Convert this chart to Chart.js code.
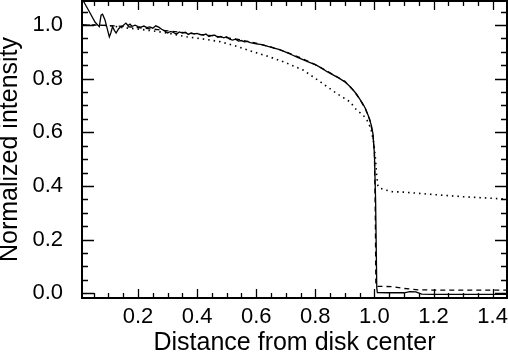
<!DOCTYPE html>
<html>
<head>
<meta charset="utf-8">
<script src="https://cdn.jsdelivr.net/npm/chart.js@4"></script>
<style>
  html, body { margin: 0; padding: 0; background: #fff; }
  canvas { display: block; }
</style>
</head>
<body>
<canvas id="myChart" width="508" height="353" style="width:508px;height:353px"></canvas>
<script>
// solid profile (noisy observation)
const solidX = [0.013, 0.025, 0.04, 0.055, 0.069, 0.075, 0.08, 0.088, 0.095, 0.103,
	0.108, 0.114, 0.12, 0.126, 0.134, 0.142, 0.15, 0.159, 0.166, 0.173,
	0.18, 0.19, 0.2, 0.21, 0.22, 0.23, 0.24, 0.25, 0.26, 0.27,
	0.28, 0.29, 0.3, 0.31, 0.32, 0.33, 0.34, 0.35, 0.36, 0.37,
	0.38, 0.39, 0.4, 0.41, 0.42, 0.43, 0.44, 0.45, 0.46, 0.47,
	0.48, 0.49, 0.5, 0.51, 0.52, 0.53, 0.54, 0.55, 0.56, 0.57,
	0.58, 0.6, 0.62, 0.64, 0.66, 0.68, 0.7, 0.72, 0.74, 0.76,
	0.78, 0.8, 0.82, 0.84, 0.86, 0.88, 0.9, 0.92, 0.94, 0.95,
	0.96, 0.97, 0.98, 0.99, 0.995, 1.0, 1.004, 1.008, 1.01, 1.05,
	1.1, 1.12, 1.14, 1.16, 1.2, 1.3, 1.449];
const solidY = [1.093, 1.07, 1.04, 1.01, 0.994, 1.037, 1.04, 1.02, 0.99, 0.956,
	0.97, 0.994, 0.98, 0.97, 0.985, 0.994, 0.998, 1.007, 0.998, 1.003,
	0.995, 0.999, 0.994, 0.992, 0.996, 0.99, 0.993, 0.988, 0.997, 0.992,
	0.984, 0.978, 0.97, 0.976, 0.972, 0.966, 0.974, 0.97, 0.973, 0.965,
	0.97, 0.967, 0.969, 0.964, 0.962, 0.966, 0.957, 0.961, 0.962, 0.954,
	0.957, 0.952, 0.956, 0.947, 0.944, 0.947, 0.94, 0.942, 0.937, 0.939,
	0.934, 0.93, 0.927, 0.92, 0.914, 0.908, 0.899, 0.889, 0.879, 0.87,
	0.861, 0.852, 0.84, 0.826, 0.814, 0.802, 0.788, 0.768, 0.742, 0.725,
	0.708, 0.688, 0.66, 0.625, 0.595, 0.52, 0.35, 0.02, 0.003, 0.002,
	0.002, 0.006, 0.005, -0.003, -0.004, -0.004, -0.004];

// dashed profile
const dashedX = [0.013, 0.05, 0.1, 0.15, 0.2, 0.25, 0.3, 0.35, 0.4, 0.45,
	0.5, 0.55, 0.6, 0.65, 0.7, 0.75, 0.8, 0.85, 0.9, 0.93,
	0.95, 0.97, 0.985, 0.995, 1.0, 1.003, 1.005, 1.01, 1.06, 1.1,
	1.15, 1.2, 1.449];
const dashedY = [1.0, 1.0, 0.998, 0.995, 0.99, 0.985, 0.978, 0.972, 0.966, 0.96,
	0.953, 0.944, 0.932, 0.918, 0.9, 0.878, 0.852, 0.822, 0.79, 0.755,
	0.724, 0.686, 0.645, 0.59, 0.52, 0.3, 0.028, 0.026, 0.025, 0.018,
	0.013, 0.012, 0.012];

// dotted profile
const dottedX = [0.013, 0.05, 0.1, 0.15, 0.2, 0.25, 0.3, 0.365, 0.42, 0.477,
	0.53, 0.59, 0.64, 0.692, 0.759, 0.816, 0.872, 0.917, 0.94, 0.962,
	0.975, 0.988, 0.998, 1.004, 1.008, 1.012, 1.02, 1.057, 1.1, 1.2,
	1.3, 1.449];
const dottedY = [1.0, 1.0, 0.998, 0.99, 0.985, 0.978, 0.97, 0.956, 0.948, 0.938,
	0.922, 0.9, 0.883, 0.863, 0.832, 0.789, 0.745, 0.714, 0.683, 0.664,
	0.645, 0.615, 0.56, 0.497, 0.435, 0.4, 0.391, 0.379, 0.377, 0.368,
	0.36, 0.351];

const xLabels = [0.2, 0.4, 0.6, 0.8, 1.0, 1.2, 1.4];
const yLabels = [0.0, 0.2, 0.4, 0.6, 0.8, 1.0];

const FONT = "'Liberation Sans', Helvetica, Arial, sans-serif";

function toPoints(xs, ys) {
	return xs.map((x, i) => ({ x: x, y: ys[i] }));
}

function minorTicks(from, to) {
	const out = [];
	for (let i = Math.round(from * 20); i <= Math.round(to * 20); i++) {
		out.push({ value: i / 20 });
	}
	return out;
}

function isLabel(list, v) {
	return list.some((l) => Math.abs(l - v) < 1e-6);
}

// inward ticks on all four sides plus the box
const frameTicks = {
	id: "frameTicks",
	afterDraw(chart) {
		const ctx = chart.ctx;
		const a = chart.chartArea;
		const xs = chart.scales.x;
		const ys = chart.scales.y;
		ctx.save();
		ctx.strokeStyle = "#000";
		ctx.lineWidth = 1.3;
		ctx.beginPath();
		xs.ticks.forEach((t) => {
			const px = Math.round(xs.getPixelForValue(t.value)) + 0.5;
			if (px <= a.left + 1 || px >= a.right - 1) return;
			const len = isLabel(xLabels, t.value) ? 9 : 5;
			ctx.moveTo(px, a.bottom);
			ctx.lineTo(px, a.bottom - len);
			ctx.moveTo(px, a.top);
			ctx.lineTo(px, a.top + len);
		});
		ys.ticks.forEach((t) => {
			const py = Math.round(ys.getPixelForValue(t.value)) + 0.5;
			if (py <= a.top + 1 || py >= a.bottom - 1) return;
			const len = isLabel(yLabels, t.value) ? 12 : 6;
			ctx.moveTo(a.left, py);
			ctx.lineTo(a.left + len, py);
			ctx.moveTo(a.right, py);
			ctx.lineTo(a.right - len, py);
		});
		ctx.stroke();
		ctx.lineWidth = 2;
		ctx.strokeRect(a.left, a.top, a.right - a.left, a.bottom - a.top);
		ctx.restore();
	},
};

const ctx = document.getElementById("myChart").getContext("2d");

new Chart(ctx, {
	type: "line",
	data: {
		datasets: [
			{
				data: toPoints(solidX, solidY),
				borderColor: "#000",
				borderWidth: 1.3,
				pointRadius: 0,
			},
			{
				data: toPoints(dashedX, dashedY),
				borderColor: "#000",
				borderWidth: 1.3,
				borderDash: [5, 4],
				pointRadius: 0,
			},
			{
				data: toPoints(dottedX, dottedY),
				borderColor: "#000",
				borderWidth: 1.6,
				borderDash: [1.5, 4],
				pointRadius: 0,
			},
		],
	},
	options: {
		responsive: false,
		animation: false,
		layout: {
			padding: { top: 1, right: 1, left: 0, bottom: 0 },
		},
		plugins: {
			legend: { display: false },
			tooltip: { enabled: false },
		},
		scales: {
			x: {
				type: "linear",
				min: 0.0105,
				max: 1.4487,
				grid: { display: false },
				border: { display: false },
				afterBuildTicks: (s) => { s.ticks = minorTicks(0.05, 1.4); },
				afterFit: (s) => {
					s.height = 55;
					s.paddingLeft = 0;
					s.paddingRight = 0;
				},
				ticks: {
					autoSkip: false,
					maxRotation: 0,
					padding: 0,
					color: "#000",
					font: { family: FONT, size: 22, lineHeight: 1 },
					callback: (v) => (isLabel(xLabels, v) ? v.toFixed(1) : ""),
				},
				title: {
					display: true,
					text: "Distance from disk center",
					color: "#000",
					font: { family: FONT, size: 25, lineHeight: 1 },
					padding: { top: 0, bottom: -3 },
				},
			},
			y: {
				type: "linear",
				min: -0.0175,
				max: 1.0894,
				grid: { display: false },
				border: { display: false },
				afterBuildTicks: (s) => { s.ticks = minorTicks(0, 1.05); },
				afterFit: (s) => {
					s.width = 82;
					s.paddingTop = 0;
					s.paddingBottom = 0;
				},
				ticks: {
					autoSkip: false,
					padding: 11,
					color: "#000",
					font: { family: FONT, size: 22, lineHeight: 1 },
					callback: (v) => (isLabel(yLabels, v) ? v.toFixed(1) : ""),
				},
				title: {
					display: true,
					text: "Normalized intensity",
					color: "#000",
					font: { family: FONT, size: 25, lineHeight: 1 },
					padding: { top: -2, bottom: 0 },
				},
			},
		},
	},
	plugins: [frameTicks],
});
</script>
</body>
</html>
